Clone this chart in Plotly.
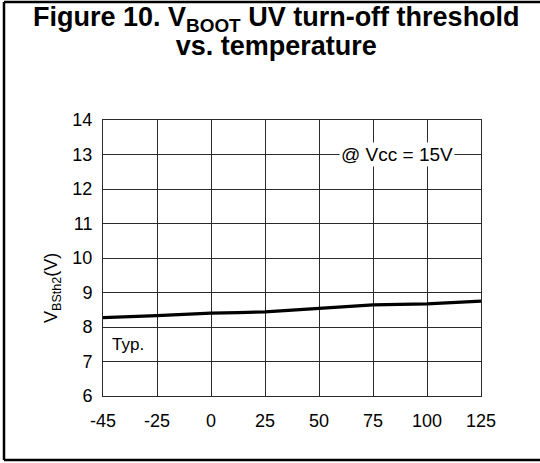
import plotly.graph_objects as go

temps = ["-45", "-25", "0", "25", "50", "75", "100", "125"]
vbsth2 = [8.27, 8.33, 8.40, 8.44, 8.54, 8.64, 8.67, 8.75]
y_ticks = [6, 7, 8, 9, 10, 11, 12, 13, 14]

W, H = 540, 463
L, R, T, B = 103, 59, 120, 67
PW, PH = W - L - R, H - T - B

def px(x):
    return (x - L) / PW

def py(y):
    return (H - B - y) / PH

FONT = "Liberation Sans, Arial, sans-serif"

fig = go.Figure()
fig.add_trace(go.Scatter(x=temps, y=vbsth2, mode="lines",
                         line=dict(color="black", width=3.2, shape="spline", smoothing=0.4),
                         showlegend=False, hoverinfo="skip"))

axis_common = dict(showgrid=True, gridcolor="#2a2a2a", gridwidth=1,
                   showline=True, linecolor="#2a2a2a", linewidth=1, mirror=True,
                   zeroline=False, ticks="",
                   tickfont=dict(family=FONT, size=18, color="black"))

fig.update_xaxes(type="category", categoryorder="array", categoryarray=temps,
                 range=[0, len(temps) - 1], ticklabelstandoff=8, **axis_common)
fig.update_yaxes(range=[6, 14], tickvals=y_ticks, ticklabelstandoff=6, **axis_common)

title_html = ('<span style="font-size:27px"><b>Figure 10. V<sub>BOOT</sub> UV turn-off threshold</b></span>'
              '<br><span style="font-size:27px"><b>vs. temperature</b></span>')

ann = [
    dict(text=title_html, x=px(276), y=py(0), yanchor="top", font=dict(size=22.5)),
    dict(text="V<sub>BSth2</sub>(V)", x=px(52), y=py(288), textangle=-90, font=dict(size=18)),
    dict(text="Typ.", x=px(110), y=7.5, yref="y", xanchor="left", font=dict(size=17)),
    dict(text="@ Vcc = 15V", x=px(397), y=13, yref="y", bgcolor="white", font=dict(size=19),
         borderpad=1),
]
for a in ann:
    a.setdefault("xref", "paper")
    a.setdefault("yref", "paper")
    a.setdefault("showarrow", False)
    a.setdefault("xanchor", "center")
    a.setdefault("yanchor", "middle")
    a["font"] = dict(family=FONT, color="black", **a["font"])
    fig.add_annotation(**a)

frame = dict(type="line", xref="paper", yref="paper", line=dict(color="black", width=2.5))
fig.add_shape(x0=px(4), x1=px(4), y0=py(2), y1=py(460), **frame)
fig.add_shape(x0=px(4), x1=px(560), y0=py(2), y1=py(2), **frame)
fig.add_shape(x0=px(4), x1=px(560), y0=py(460), y1=py(460), **frame)

fig.update_layout(width=W, height=H, margin=dict(l=L, r=R, t=T, b=B),
                  paper_bgcolor="white", plot_bgcolor="white")

fig.write_html("out.html", config={"displayModeBar": False},
               post_script="document.body.style.margin='0';document.body.style.overflow='hidden';")
